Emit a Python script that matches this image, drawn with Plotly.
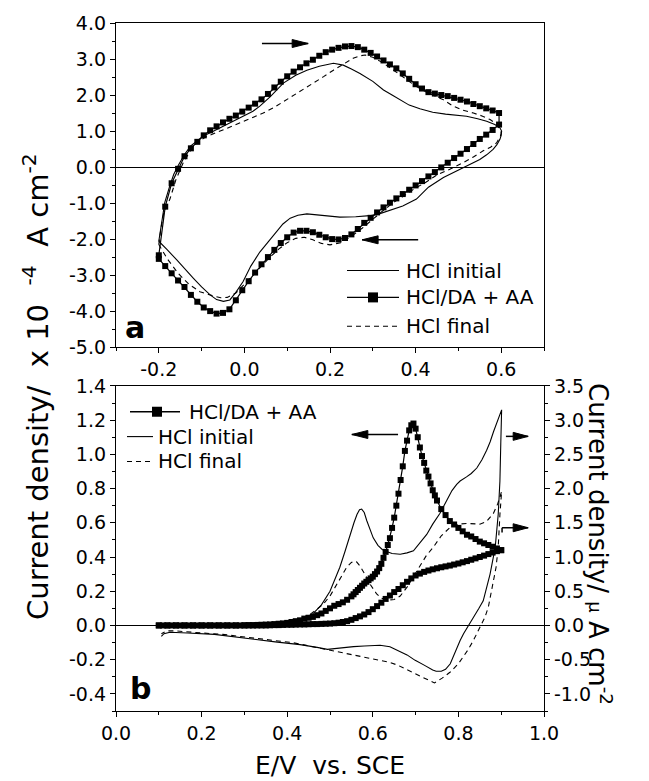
import plotly.graph_objects as go

# ---------------- Panel a : data (E / V vs SCE, J / 1e-4 A cm-2) ----------------
E_a_sq_fwd = [-0.200, -0.185, -0.170, -0.155, -0.140, -0.125, -0.110, -0.095, -0.080, -0.065,
              -0.050, -0.035, -0.020, -0.005, 0.010, 0.025, 0.040, 0.055, 0.070, 0.085,
              0.100, 0.115, 0.130, 0.145, 0.160, 0.175, 0.190, 0.205, 0.220, 0.235,
              0.250, 0.265, 0.280, 0.295, 0.310, 0.325, 0.340, 0.355, 0.370, 0.385,
              0.400, 0.415, 0.430, 0.445, 0.460, 0.475, 0.490, 0.505, 0.520, 0.535,
              0.550, 0.565, 0.580, 0.595]
J_a_sq_fwd = [-2.45, -1.10, -0.45, -0.05, 0.30, 0.52, 0.70, 0.88, 1.02, 1.13,
              1.24, 1.34, 1.43, 1.54, 1.65, 1.76, 1.88, 2.03, 2.21, 2.37,
              2.52, 2.65, 2.77, 2.88, 2.98, 3.09, 3.19, 3.26, 3.31, 3.35,
              3.36, 3.33, 3.26, 3.17, 3.07, 2.96, 2.85, 2.74, 2.60, 2.45,
              2.30, 2.18, 2.08, 2.04, 2.00, 1.97, 1.92, 1.87, 1.82, 1.75,
              1.69, 1.63, 1.57, 1.50]
E_a_sq_rev = E_a_sq_fwd[::-1]
J_a_sq_rev = [1.18, 1.03, 0.90, 0.78, 0.64, 0.50, 0.37, 0.25, 0.12, -0.01,
              -0.14, -0.26, -0.39, -0.51, -0.63, -0.75, -0.87, -0.99, -1.12, -1.26,
              -1.41, -1.55, -1.72, -1.87, -1.97, -2.01, -2.00, -1.95, -1.88, -1.81,
              -1.77, -1.77, -1.82, -1.95, -2.11, -2.30, -2.50, -2.70, -2.93, -3.17,
              -3.42, -3.70, -3.95, -4.05, -4.07, -4.00, -3.90, -3.74, -3.55, -3.33,
              -3.15, -2.95, -2.75, -2.55]

E_a_init = [-0.200, -0.196, -0.193, -0.186, -0.174, -0.165, -0.154, -0.140, -0.126, -0.110,
            -0.096, -0.075, -0.057, -0.030, -0.003, 0.020, 0.036, 0.060, 0.091, 0.120,
            0.146, 0.175, 0.208, 0.231, 0.250, 0.270, 0.300, 0.325, 0.345, 0.364,
            0.385, 0.410, 0.440, 0.470, 0.519, 0.545, 0.566, 0.585, 0.597, 0.601,
            0.600, 0.597, 0.590, 0.581, 0.566, 0.550, 0.530, 0.511, 0.490, 0.465,
            0.430, 0.402, 0.370, 0.340, 0.315, 0.293, 0.260, 0.223, 0.195, 0.169,
            0.146, 0.125, 0.107, 0.090, 0.075, 0.055, 0.036, 0.015, -0.003, -0.020,
            -0.034, -0.049, -0.065, -0.080, -0.100, -0.119, -0.140, -0.158, -0.180, -0.197,
            -0.200]
J_a_init = [-2.06, -1.75, -1.62, -0.98, -0.51, -0.20, 0.06, 0.35, 0.58, 0.74,
            0.86, 0.98, 1.09, 1.25, 1.41, 1.55, 1.69, 1.95, 2.33, 2.55,
            2.69, 2.80, 2.88, 2.83, 2.72, 2.60, 2.38, 2.14, 2.00, 1.87,
            1.72, 1.62, 1.52, 1.47, 1.41, 1.34, 1.27, 1.18, 1.09, 1.00,
            0.88, 0.77, 0.62, 0.49, 0.34, 0.21, 0.09, -0.01, -0.14, -0.29,
            -0.56, -0.89, -1.08, -1.21, -1.30, -1.35, -1.38, -1.39, -1.36, -1.32,
            -1.30, -1.34, -1.42, -1.58, -1.80, -2.08, -2.36, -2.75, -3.18, -3.48,
            -3.69, -3.73, -3.68, -3.55, -3.33, -3.09, -2.83, -2.58, -2.30, -2.08,
            -2.06]

E_a_final = [-0.200, -0.195, -0.188, -0.174, -0.160, -0.143, -0.128, -0.112, -0.090, -0.065,
             -0.040, -0.010, 0.020, 0.044, 0.070, 0.099, 0.130, 0.161, 0.185, 0.208,
             0.232, 0.254, 0.270, 0.282, 0.300, 0.320, 0.345, 0.370, 0.400, 0.430,
             0.465, 0.488, 0.510, 0.535, 0.555, 0.574, 0.590, 0.597, 0.600,
             0.598, 0.589, 0.575, 0.558, 0.535, 0.511, 0.480, 0.450, 0.420, 0.400,
             0.370, 0.350, 0.325, 0.300, 0.275, 0.250, 0.225, 0.200, 0.180, 0.160,
             0.140, 0.120, 0.100, 0.080, 0.060, 0.040, 0.020, 0.000, -0.020, -0.040,
             -0.055, -0.075, -0.104, -0.130, -0.155, -0.180, -0.200]
J_a_final = [-2.15, -1.70, -1.25, -0.89, -0.35, 0.12, 0.42, 0.67, 0.84, 0.95,
             1.08, 1.23, 1.37, 1.50, 1.66, 1.87, 2.10, 2.33, 2.51, 2.69,
             2.87, 3.02, 3.09, 3.11, 3.05, 2.92, 2.72, 2.50, 2.25, 2.05,
             1.87, 1.69, 1.58, 1.50, 1.42, 1.32, 1.18, 1.04, 0.95,
             0.85, 0.67, 0.55, 0.45, 0.28, 0.12, -0.06, -0.22, -0.45, -0.58,
             -0.82, -0.97, -1.20, -1.45, -1.70, -1.92, -2.10, -2.16, -2.12, -2.02,
             -1.95, -1.98, -2.10, -2.28, -2.50, -2.75, -3.00, -3.28, -3.50, -3.62,
             -3.63, -3.57, -3.46, -3.25, -2.95, -2.55, -2.15]

# ---------------- Panel b : data ----------------
# HCl/DA + AA  (left axis)
E_b_sq_fwd = [0.10, 0.11, 0.12, 0.13, 0.14, 0.15, 0.16, 0.17, 0.18, 0.19,
              0.20, 0.21, 0.22, 0.23, 0.24, 0.25, 0.26, 0.27, 0.28, 0.29,
              0.30, 0.31, 0.32, 0.33, 0.34, 0.35, 0.36, 0.37, 0.38, 0.39,
              0.40, 0.41, 0.42, 0.43, 0.44, 0.45, 0.46, 0.47, 0.48, 0.49,
              0.50, 0.51, 0.52, 0.53, 0.54, 0.55, 0.56, 0.57, 0.58, 0.59,
              0.60, 0.61, 0.62, 0.63, 0.64, 0.65, 0.66, 0.67, 0.68, 0.69,
              0.70, 0.71, 0.72, 0.73, 0.74, 0.75, 0.76, 0.77, 0.78, 0.79,
              0.80, 0.81, 0.82, 0.83, 0.84, 0.85, 0.86, 0.87, 0.88, 0.89, 0.90]
J_b_sq_fwd = [0.0, 0.0, 0.0, 0.0, 0.0, 0.0, 0.0, 0.0, 0.0, 0.0,
              0.0, 0.0, 0.0, 0.0, 0.0, 0.0, 0.0, 0.0, 0.0, 0.0,
              0.0, 0.0, 0.0, 0.0, 0.0, 0.0, 0.001, 0.002, 0.002, 0.003,
              0.004, 0.004, 0.005, 0.006, 0.006, 0.007, 0.008, 0.008, 0.009, 0.010,
              0.011, 0.013, 0.016, 0.020, 0.025, 0.033, 0.043, 0.053, 0.064, 0.078,
              0.095, 0.113, 0.133, 0.155, 0.175, 0.195, 0.213, 0.235, 0.255, 0.275,
              0.292, 0.303, 0.313, 0.321, 0.328, 0.334, 0.340, 0.345, 0.350, 0.356,
              0.362, 0.369, 0.376, 0.384, 0.392, 0.400, 0.408, 0.417, 0.426, 0.434, 0.440]
E_b_sq_rev = [0.90, 0.89, 0.88, 0.87, 0.86, 0.85, 0.84, 0.83, 0.82, 0.81,
              0.80, 0.79, 0.78, 0.77, 0.76,
              0.750, 0.745, 0.740, 0.735, 0.730, 0.725, 0.720, 0.715, 0.710, 0.705,
              0.700, 0.695, 0.690, 0.685, 0.680, 0.675, 0.670, 0.665, 0.660, 0.655,
              0.650, 0.645, 0.640, 0.635, 0.630, 0.625, 0.620, 0.615, 0.610, 0.605,
              0.600, 0.595, 0.590, 0.585, 0.580, 0.575, 0.570, 0.565, 0.560, 0.555,
              0.550,
              0.54, 0.53, 0.52, 0.51, 0.50, 0.49, 0.48, 0.47, 0.46, 0.45,
              0.44, 0.43, 0.42, 0.41, 0.40, 0.39, 0.38, 0.37, 0.36, 0.35,
              0.34, 0.33, 0.32, 0.31, 0.30,
              0.28, 0.26, 0.24, 0.22, 0.20, 0.18, 0.16, 0.14, 0.12, 0.10]
J_b_sq_rev = [0.44, 0.45, 0.46, 0.47, 0.48, 0.49, 0.505, 0.52, 0.53, 0.55,
              0.57, 0.59, 0.61, 0.645, 0.68,
              0.73, 0.76, 0.79, 0.83, 0.87, 0.905, 0.95, 0.99, 1.04, 1.10,
              1.15, 1.18, 1.17, 1.14, 1.08, 1.02, 0.93, 0.85, 0.77, 0.70,
              0.63, 0.57, 0.51, 0.47, 0.43, 0.395, 0.36, 0.335, 0.315, 0.30,
              0.285, 0.275, 0.265, 0.255, 0.245, 0.232, 0.22, 0.207, 0.195, 0.182,
              0.17,
              0.15, 0.135, 0.125, 0.115, 0.10, 0.085, 0.07, 0.06, 0.05, 0.045,
              0.04, 0.03, 0.025, 0.02, 0.015, 0.012, 0.01, 0.008, 0.006, 0.005,
              0.004, 0.003, 0.002, 0.002, 0.001,
              0.0, 0.0, 0.0, 0.0, 0.0, 0.0, 0.0, 0.0, 0.0, 0.0]

# HCl initial (right axis, uA cm-2)
E_b_init = [0.100, 0.200, 0.300, 0.350, 0.400, 0.420, 0.440, 0.460, 0.480, 0.500,
            0.512, 0.523, 0.535, 0.547, 0.556, 0.563, 0.569, 0.574, 0.580, 0.586,
            0.594, 0.601, 0.612, 0.622, 0.632, 0.645, 0.664, 0.680, 0.695, 0.710,
            0.726, 0.740, 0.757, 0.773, 0.785, 0.796, 0.804, 0.819, 0.830, 0.843,
            0.855, 0.866, 0.874, 0.882, 0.892, 0.901,
            0.899, 0.897, 0.893, 0.886, 0.874, 0.866, 0.858, 0.848, 0.839, 0.823,
            0.812, 0.804, 0.792, 0.781, 0.770, 0.760, 0.748, 0.740, 0.720, 0.699,
            0.680, 0.658, 0.640, 0.617, 0.600, 0.580, 0.555, 0.535, 0.515, 0.494,
            0.470, 0.430, 0.372, 0.330, 0.290, 0.230, 0.167, 0.126, 0.112, 0.106]
J_b_init = [0.00, 0.00, 0.01, 0.02, 0.04, 0.06, 0.10, 0.17, 0.30, 0.50,
            0.68, 0.85, 1.08, 1.33, 1.50, 1.62, 1.69, 1.70, 1.65, 1.53,
            1.40, 1.28, 1.17, 1.11, 1.08, 1.05, 1.04, 1.06, 1.09, 1.20,
            1.33, 1.48, 1.64, 1.83, 1.97, 2.06, 2.11, 2.17, 2.22, 2.30,
            2.42, 2.56, 2.68, 2.83, 3.00, 3.15,
            2.65, 2.11, 1.62, 1.14, 0.75, 0.55, 0.36, 0.25, 0.16, 0.00,
            -0.12, -0.22, -0.40, -0.56, -0.64, -0.67, -0.67, -0.65, -0.58, -0.51,
            -0.43, -0.36, -0.31, -0.29, -0.29, -0.30, -0.31, -0.32, -0.34, -0.35,
            -0.32, -0.28, -0.24, -0.21, -0.18, -0.13, -0.11, -0.10, -0.12, -0.16]

# HCl final (right axis, uA cm-2)
E_b_final = [0.100, 0.250, 0.330, 0.380, 0.407, 0.430, 0.453, 0.470, 0.484, 0.500,
             0.515, 0.527, 0.539, 0.550, 0.556, 0.562, 0.570, 0.578, 0.586, 0.593,
             0.601, 0.609, 0.620, 0.635, 0.650, 0.664, 0.680, 0.695, 0.710, 0.725,
             0.741, 0.760, 0.780, 0.800, 0.819, 0.835, 0.850, 0.866, 0.882, 0.892, 0.901,
             0.897, 0.893, 0.888, 0.882, 0.876, 0.870, 0.862, 0.854, 0.846, 0.835,
             0.822, 0.800, 0.781, 0.762, 0.744, 0.725, 0.699, 0.680, 0.658, 0.640,
             0.617, 0.576, 0.535, 0.494, 0.453, 0.412, 0.370, 0.331, 0.290, 0.249,
             0.200, 0.167, 0.140, 0.118, 0.106]
J_b_final = [0.00, 0.00, 0.02, 0.04, 0.06, 0.10, 0.16, 0.24, 0.31, 0.43,
             0.58, 0.72, 0.85, 0.92, 0.94, 0.93, 0.87, 0.79, 0.70, 0.61,
             0.53, 0.46, 0.40, 0.37, 0.38, 0.43, 0.56, 0.72, 0.86, 1.02,
             1.14, 1.31, 1.43, 1.48, 1.49, 1.49, 1.48, 1.52, 1.64, 1.78, 1.96,
             1.62, 1.14, 0.85, 0.65, 0.45, 0.27, 0.12, 0.02, -0.10, -0.22,
             -0.36, -0.56, -0.68, -0.77, -0.84, -0.78, -0.71, -0.64, -0.58, -0.54,
             -0.51, -0.46, -0.41, -0.36, -0.30, -0.25, -0.22, -0.19, -0.16, -0.13,
             -0.11, -0.09, -0.08, -0.08, -0.12]

# ---------------- tick labels ----------------
a_x_ticks = [-0.2, 0.0, 0.2, 0.4, 0.6]
a_x_labels = ["-0.2", "0.0", "0.2", "0.4", "0.6"]
a_y_ticks = [-5, -4, -3, -2, -1, 0, 1, 2, 3, 4]
a_y_labels = ["-5.0", "-4.0", "-3.0", "-2.0", "-1.0", "0.0", "1.0", "2.0", "3.0", "4.0"]
b_x_ticks = [0.0, 0.2, 0.4, 0.6, 0.8, 1.0]
b_x_labels = ["0.0", "0.2", "0.4", "0.6", "0.8", "1.0"]
b_yl_ticks = [-0.4, -0.2, 0.0, 0.2, 0.4, 0.6, 0.8, 1.0, 1.2, 1.4]
b_yl_labels = ["-0.4", "-0.2", "0.0", "0.2", "0.4", "0.6", "0.8", "1.0", "1.2", "1.4"]
b_yr_ticks = [-1.0, -0.5, 0.0, 0.5, 1.0, 1.5, 2.0, 2.5, 3.0, 3.5]
b_yr_labels = ["-1.0", "-0.5", "0.0", "0.5", "1.0", "1.5", "2.0", "2.5", "3.0", "3.5"]

FONT = "DejaVu Sans"
INK = "black"

fig = go.Figure()

# panel a traces
fig.add_trace(go.Scatter(x=E_a_init, y=J_a_init, mode="lines", name="HCl initial",
                         line=dict(color=INK, width=1.1), xaxis="x", yaxis="y", showlegend=False))
fig.add_trace(go.Scatter(x=E_a_final, y=J_a_final, mode="lines", name="HCl final",
                         line=dict(color=INK, width=1.1, dash="5px,4px"), xaxis="x", yaxis="y",
                         showlegend=False))
fig.add_trace(go.Scatter(x=E_a_sq_fwd + E_a_sq_rev, y=J_a_sq_fwd + J_a_sq_rev, mode="lines+markers",
                         name="HCl/DA + AA", line=dict(color=INK, width=1.2),
                         marker=dict(symbol="square", size=6, color=INK), xaxis="x", yaxis="y",
                         showlegend=False))

# panel b traces
fig.add_trace(go.Scatter(x=E_b_init, y=J_b_init, mode="lines", name="HCl initial",
                         line=dict(color=INK, width=1.1), xaxis="x2", yaxis="y3", showlegend=False))
fig.add_trace(go.Scatter(x=E_b_final, y=J_b_final, mode="lines", name="HCl final",
                         line=dict(color=INK, width=1.1, dash="5px,4px"), xaxis="x2", yaxis="y3",
                         showlegend=False))
fig.add_trace(go.Scatter(x=E_b_sq_fwd + E_b_sq_rev, y=J_b_sq_fwd + J_b_sq_rev, mode="lines+markers",
                         name="HCl/DA + AA", line=dict(color=INK, width=1.2),
                         marker=dict(symbol="square", size=6, color=INK), xaxis="x2", yaxis="y2",
                         showlegend=False))

# ---------------- layout geometry ----------------
W, H = 649, 781
L, R, T, B = 116, 105, 19, 70
PW, PH = W - L - R, H - T - B


def pxx(px):
    return (px - L) / PW


def pxy(py):
    return (H - B - py) / PH


tickfont = dict(family=FONT, size=19, color=INK)
common = dict(showgrid=False, ticks="outside", ticklen=5, tickwidth=1, tickcolor=INK,
              showline=True, linewidth=1.3, linecolor=INK, tickfont=tickfont, tickmode="array")

fig.update_layout(
    width=W, height=H, autosize=False,
    margin=dict(l=L, r=R, t=T, b=B, pad=0),
    paper_bgcolor="white", plot_bgcolor="white",
    font=dict(family=FONT, color=INK),
    showlegend=False,
    xaxis=dict(domain=[0, 1], anchor="y", range=[-0.3, 0.7], tickvals=a_x_ticks, ticktext=a_x_labels,
               mirror=True, zeroline=False,
               minor=dict(tickvals=[-0.3, -0.1, 0.1, 0.3, 0.5, 0.7], ticks="outside", ticklen=3,
                          tickwidth=1, tickcolor=INK), **common),
    yaxis=dict(domain=[pxy(345), 1], anchor="x", range=[-5, 4], tickvals=a_y_ticks, ticktext=a_y_labels,
               mirror=True, zeroline=True, zerolinecolor=INK, zerolinewidth=1.3,
               minor=dict(tickvals=[-4.5, -3.5, -2.5, -1.5, -0.5, 0.5, 1.5, 2.5, 3.5], ticks="outside",
                          ticklen=3, tickwidth=1, tickcolor=INK), **common),
    xaxis2=dict(domain=[0, 1], anchor="y2", range=[0, 1.0], tickvals=b_x_ticks, ticktext=b_x_labels,
                mirror=True, zeroline=False,
                minor=dict(tickvals=[0.1, 0.3, 0.5, 0.7, 0.9], ticks="outside", ticklen=3,
                           tickwidth=1, tickcolor=INK), **common),
    yaxis2=dict(domain=[0, pxy(384)], anchor="x2", range=[-0.5, 1.4], tickvals=b_yl_ticks,
                ticktext=b_yl_labels, mirror=False, zeroline=True, zerolinecolor=INK, zerolinewidth=1.3,
                minor=dict(tickvals=[-0.5, -0.3, -0.1, 0.1, 0.3, 0.5, 0.7, 0.9, 1.1, 1.3], ticks="outside",
                           ticklen=3, tickwidth=1, tickcolor=INK), **common),
    yaxis3=dict(overlaying="y2", side="right", anchor="x2", range=[-1.25, 3.5], tickvals=b_yr_ticks,
                ticktext=b_yr_labels, zeroline=False,
                minor=dict(tickvals=[-1.25, -0.75, -0.25, 0.25, 0.75, 1.25, 1.75, 2.25, 2.75, 3.25],
                           ticks="outside", ticklen=3, tickwidth=1, tickcolor=INK), **common),
)

shapes = []
annotations = []


def arrow(xref, yref, x0, x1, y, head_len=16, half=4):
    shapes.append(dict(type="line", xref=xref, yref=yref, x0=x0, x1=x1, y0=y, y1=y,
                       line=dict(color=INK, width=1.5)))
    d = 1 if x1 > x0 else -1
    path = f"M0,0 L{-d * head_len},{half} L{-d * head_len},{-half} Z"
    shapes.append(dict(type="path", xref=xref, yref=yref, xsizemode="pixel", ysizemode="pixel",
                       xanchor=x1, yanchor=y, path=path, fillcolor=INK, line=dict(color=INK, width=1)))


# arrows panel a
arrow("x", "y", 0.041, 0.149, 3.43)
arrow("x", "y", 0.406, 0.275, -2.02)
# arrows panel b
arrow("x2", "y2", 0.659, 0.551, 1.116)
arrow("x2", "y2", 0.911, 0.963, 1.105, head_len=15)
arrow("x2", "y2", 0.902, 0.963, 0.571, head_len=15)
shapes.append(dict(type="line", xref="x2", yref="y2", x0=0.902, x1=0.902, y0=0.571, y1=0.543,
                   line=dict(color=INK, width=1.5)))


def legend_row(py, x0px, x1px, textpx, label, kind, sqpx=None):
    y = pxy(py)
    if kind == "dash":
        shapes.append(dict(type="line", xref="paper", yref="paper", x0=pxx(x0px), x1=pxx(x1px), y0=y, y1=y,
                           line=dict(color=INK, width=1.1, dash="5px,4px")))
    else:
        shapes.append(dict(type="line", xref="paper", yref="paper", x0=pxx(x0px), x1=pxx(x1px), y0=y, y1=y,
                           line=dict(color=INK, width=1.3 if kind == "sq" else 1.1)))
    if kind == "sq":
        shapes.append(dict(type="rect", xref="paper", yref="paper", xsizemode="pixel", ysizemode="pixel",
                           xanchor=pxx(sqpx), yanchor=y, x0=-5, x1=5, y0=-5, y1=5,
                           fillcolor=INK, line=dict(color=INK, width=0)))
    annotations.append(dict(xref="paper", yref="paper", x=pxx(textpx), y=y, text=label, showarrow=False,
                            xanchor="left", yanchor="middle", font=dict(family=FONT, size=20, color=INK)))


# legend panel a
legend_row(268, 347, 399, 404, "HCl initial", "solid")
legend_row(295, 347, 399, 404, "HCl/DA + AA", "sq", 373)
legend_row(324, 347, 399, 404, "HCl final", "dash")
# legend panel b
legend_row(410, 130, 180, 187, "HCl/DA + AA", "sq", 157)
legend_row(435, 127, 153, 156, "HCl initial", "solid")
legend_row(460, 127, 153, 156, "HCl final", "dash")

# panel letters
annotations.append(dict(xref="paper", yref="paper", x=pxx(135), y=pxy(325), text="<b>a</b>", showarrow=False,
                        xanchor="center", yanchor="middle", font=dict(family=FONT, size=30, color=INK)))
annotations.append(dict(xref="paper", yref="paper", x=pxx(140), y=pxy(688), text="<b>b</b>", showarrow=False,
                        xanchor="center", yanchor="middle", font=dict(family=FONT, size=30, color=INK)))

# axis titles
annotations.append(dict(xref="paper", yref="paper", x=pxx(36), y=pxy(385),
                        text="Current density/  x 10  <sup>-4</sup>  A cm<sup>-2</sup>", showarrow=False,
                        textangle=-90, xanchor="center", yanchor="middle",
                        font=dict(family=FONT, size=29, color=INK)))
annotations.append(dict(xref="paper", yref="paper", x=pxx(600), y=pxy(543),
                        text="Current density/ <span style='font-size:18px'>\u03bc</span> A cm<sup>-2</sup>",
                        showarrow=False, textangle=90, xanchor="center", yanchor="middle",
                        font=dict(family=FONT, size=26, color=INK)))
annotations.append(dict(xref="paper", yref="paper", x=0.5, y=pxy(766), text="E/V  vs. SCE", showarrow=False,
                        xanchor="center", yanchor="middle", font=dict(family=FONT, size=25, color=INK)))

fig.update_layout(shapes=shapes, annotations=annotations)

fig.write_html("out.html", config={"displayModeBar": False},
               post_script="document.body.style.margin='0';document.body.style.padding='0';"
                           "document.body.style.overflow='hidden';")
